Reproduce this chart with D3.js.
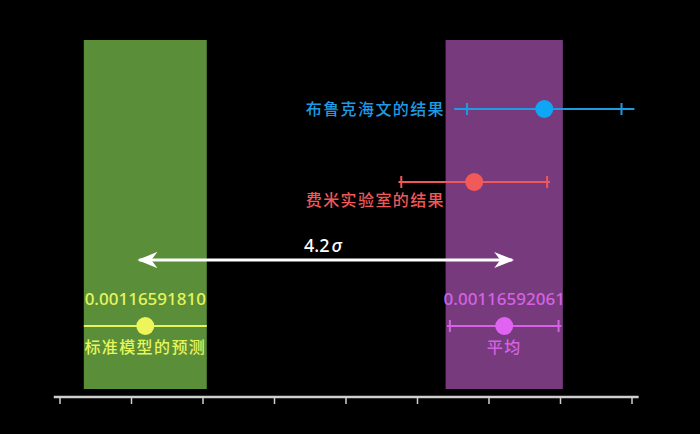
<!DOCTYPE html>
<html>
<head>
<meta charset="utf-8">
<title>muon g-2</title>
<script src="https://cdn.jsdelivr.net/npm/d3@7"></script>
<style>
  html, body { margin: 0; padding: 0; background: #000; }
  svg { display: block; }
  .num { font-family: "Noto Sans", "Open Sans", sans-serif; font-size: 17px; font-weight: 500; }
  .cjk { font-family: "Noto Sans CJK SC", sans-serif; font-size: 16px; font-weight: 500; letter-spacing: 1.4px; }
</style>
</head>
<body>
<div id="chart"></div>
<script>
// values in units of 1e-11, offset from 0.00116590000
var OFFSET = 0.00116590000;
var axisTicks = [1750, 1800, 1850, 1900, 1950, 2000, 2050, 2100, 2150];

// bands: theory prediction and world average
var bandNames = ["sm", "avg"];
var bandCenters = [1810, 2061];
var bandErrors = [43, 41];

// experiments
var expNames = ["布鲁克海文的结果", "费米实验室的结果"];
var expValues = [2089, 2040];
var expTotalErr = [63, 53];
var expStatErr = [54, 51];

// bottom row labels
var bottomNames = ["标准模型的预测", "平均"];
var bottomValues = [1810, 2061];
var bottomErrTicks = [0, 38];
var bottomErrLine = [43, 40];

var sigmaLabel = "4.2";

var W = 700, H = 434;
var bandColors = ["#5a8e38", "#773a7d"];
var expColors = ["#1e9be3", "#f05858"];
var dotColors = ["#0ea6f5", "#f25a5a"];
var bottomColors = ["#e6f55c", "#d462e2"];
var bottomDot = ["#eef55a", "#e063f2"];

var svg = d3.select("#chart").append("svg")
  .attr("width", W).attr("height", H)
  .style("background", "#000");

var x = d3.scaleLinear().domain([1750, 2150]).range([59.5, 631.5]);

var bandTop = 40, bandBottom = 389;
var yExp = [109, 182];
var yArrow = 260, yBottom = 326;

// bands
svg.selectAll("rect.band").data(bandNames).enter().append("rect")
  .attr("class", "band")
  .attr("x", function(d, i) { return x(bandCenters[i] - bandErrors[i]); })
  .attr("width", function(d, i) { return x(bandCenters[i] + bandErrors[i]) - x(bandCenters[i] - bandErrors[i]); })
  .attr("y", bandTop)
  .attr("height", bandBottom - bandTop)
  .attr("fill", function(d, i) { return bandColors[i]; });

// axis
var axisG = svg.append("g").attr("transform", "translate(0,397)")
  .call(d3.axisBottom(x).tickValues(axisTicks).tickSize(7).tickSizeOuter(0).tickFormat(""));
axisG.select(".domain").remove();
axisG.selectAll(".tick line").attr("stroke", "#cfcfcf").attr("stroke-width", 1.5);
axisG.append("line")
  .attr("x1", x(1746)).attr("x2", x(2155))
  .attr("stroke", "#cfcfcf").attr("stroke-width", 2.5);

// experiment error bars
function errorBar(g, cx, cy, lineErr, tickErr, color, dotColor, tickH) {
  g.append("line")
    .attr("x1", x(cx - lineErr)).attr("x2", x(cx + lineErr))
    .attr("y1", cy).attr("y2", cy)
    .attr("stroke", color).attr("stroke-width", 2);
  if (tickErr > 0) {
    [cx - tickErr, cx + tickErr].forEach(function(v) {
      g.append("line")
        .attr("x1", x(v)).attr("x2", x(v))
        .attr("y1", cy - tickH).attr("y2", cy + tickH)
        .attr("stroke", color).attr("stroke-width", 2);
    });
  }
  g.append("circle").attr("cx", x(cx)).attr("cy", cy).attr("r", 9).attr("fill", dotColor);
}

expNames.forEach(function(name, i) {
  errorBar(svg, expValues[i], yExp[i], expTotalErr[i], expStatErr[i], expColors[i], dotColors[i], 6);
});

svg.append("text").attr("class", "cjk")
  .attr("x", 445).attr("y", yExp[0] + 6)
  .attr("text-anchor", "end").attr("fill", expColors[0])
  .text(expNames[0]);
svg.append("text").attr("class", "cjk")
  .attr("x", 445).attr("y", yExp[1] + 24)
  .attr("text-anchor", "end").attr("fill", expColors[1])
  .text(expNames[1]);

// bottom row
bottomNames.forEach(function(name, i) {
  errorBar(svg, bottomValues[i], yBottom, bottomErrLine[i], bottomErrTicks[i], bottomColors[i], bottomDot[i], 6);
  var val = ((OFFSET * 1e11 + bottomValues[i]) / 1e11).toFixed(11);
  svg.append("text").attr("class", "num")
    .attr("x", x(bottomValues[i])).attr("y", yBottom - 21)
    .attr("text-anchor", "middle").attr("fill", bottomColors[i])
    .text(val);
  svg.append("text").attr("class", "cjk")
    .attr("x", x(bottomValues[i])).attr("y", yBottom + 27)
    .attr("text-anchor", "middle").attr("fill", bottomColors[i])
    .text(name);
});

// sigma arrow
var defs = svg.append("defs");
defs.append("marker").attr("id", "ah")
  .attr("viewBox", "0 0 20 16").attr("refX", 18).attr("refY", 8)
  .attr("markerWidth", 20).attr("markerHeight", 16)
  .attr("markerUnits", "userSpaceOnUse").attr("orient", "auto-start-reverse")
  .append("path").attr("d", "M0,0 L20,8 L0,16 L6,8 Z").attr("fill", "#fff");

svg.append("line")
  .attr("x1", x(bandCenters[0]) - 6).attr("x2", x(bandCenters[1]) + 8)
  .attr("y1", yArrow).attr("y2", yArrow)
  .attr("stroke", "#fff").attr("stroke-width", 3)
  .attr("marker-start", "url(#ah)").attr("marker-end", "url(#ah)");

var st = svg.append("text").attr("class", "num")
  .attr("x", 304).attr("y", 252).attr("fill", "#fff").style("font-size", "18px");
st.append("tspan").text(sigmaLabel);
st.append("tspan").attr("font-style", "italic").attr("dx", 2).text("σ");
</script>
</body>
</html>
